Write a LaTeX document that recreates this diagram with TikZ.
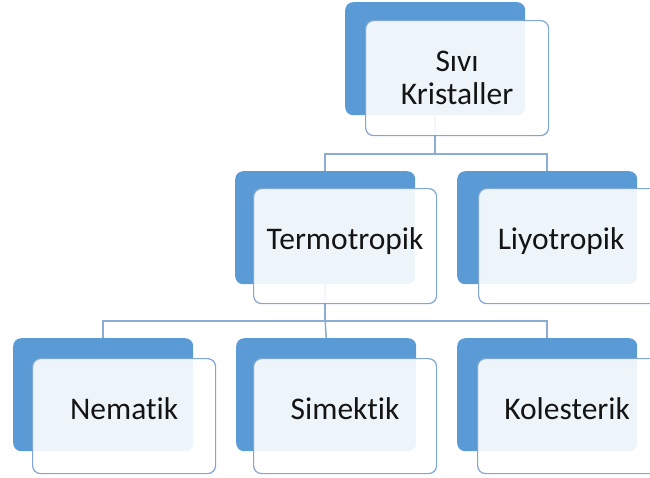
\documentclass[tikz,border=0pt]{standalone}
\usepackage{fontspec}
\setmainfont{Carlito}[Ligatures=NoCommon]
\definecolor{accblue}{HTML}{5B9BD5}
\definecolor{edgeblue}{HTML}{7FA6D4}
\definecolor{linkblue}{HTML}{8BACD4}
\definecolor{txt}{HTML}{141414}
\tikzset{
  backbox/.style={draw=none, fill=accblue, rounded corners=8pt, minimum width=180pt, minimum height=113pt, inner sep=0pt, anchor=north west},
  frontbox/.style={draw=edgeblue, line width=1.2pt, fill=white, fill opacity=0.9, text opacity=1, rounded corners=8pt, minimum width=183pt, minimum height=115pt, inner sep=0pt, anchor=north west, text=txt, align=center, font=\fontsize{31.5}{33.4}\selectfont, text height=0.96em, text depth=0.2em},
  link/.style={draw=linkblue, line width=1.5pt}
}
\begin{document}
\begin{tikzpicture}[x=1pt, y=-1pt]
\useasboundingbox (0,0) rectangle (650,477);
\clip (0,0) rectangle (650,477);
% back boxes
\node[backbox] (b0) at (345,2) {};
\node[backbox] (b1) at (235,171) {};
\node[backbox] (b2) at (457,171) {};
\node[backbox] (b3) at (13,338) {};
\node[backbox] (b4) at (236,338) {};
\node[backbox] (b5) at (457,338) {};
% junction levels
\coordinate (j0) at (0,154);
\coordinate (j1) at (0,321);
% connectors
\draw[link] (b0.south) -- (b0.south |- j0) -| (b1.north);
\draw[link] (b0.south |- j0) -| (b2.north);
\draw[link] (b1.south) -- (b1.south |- j1) -| (b3.north);
\draw[link] (b1.south |- j1) -- (b4.north);
\draw[link] (b1.south |- j1) -| (b5.north);
% front boxes
\node[frontbox, text height={}, text depth={}] (w0) at (365,20) {Sıvı\\Kristaller};
\node[frontbox] (w1) at (253,188) {Termotropik};
\node[frontbox] (w2) at (478,188) {\hspace*{-18pt}Liyotropik};
\node[frontbox] (w3) at (32,358) {Nematik};
\node[frontbox] (w4) at (253,358) {Simektik};
\node[frontbox] (w5) at (477,358) {\hspace*{-4pt}Kolesterik};
\end{tikzpicture}
\end{document}
